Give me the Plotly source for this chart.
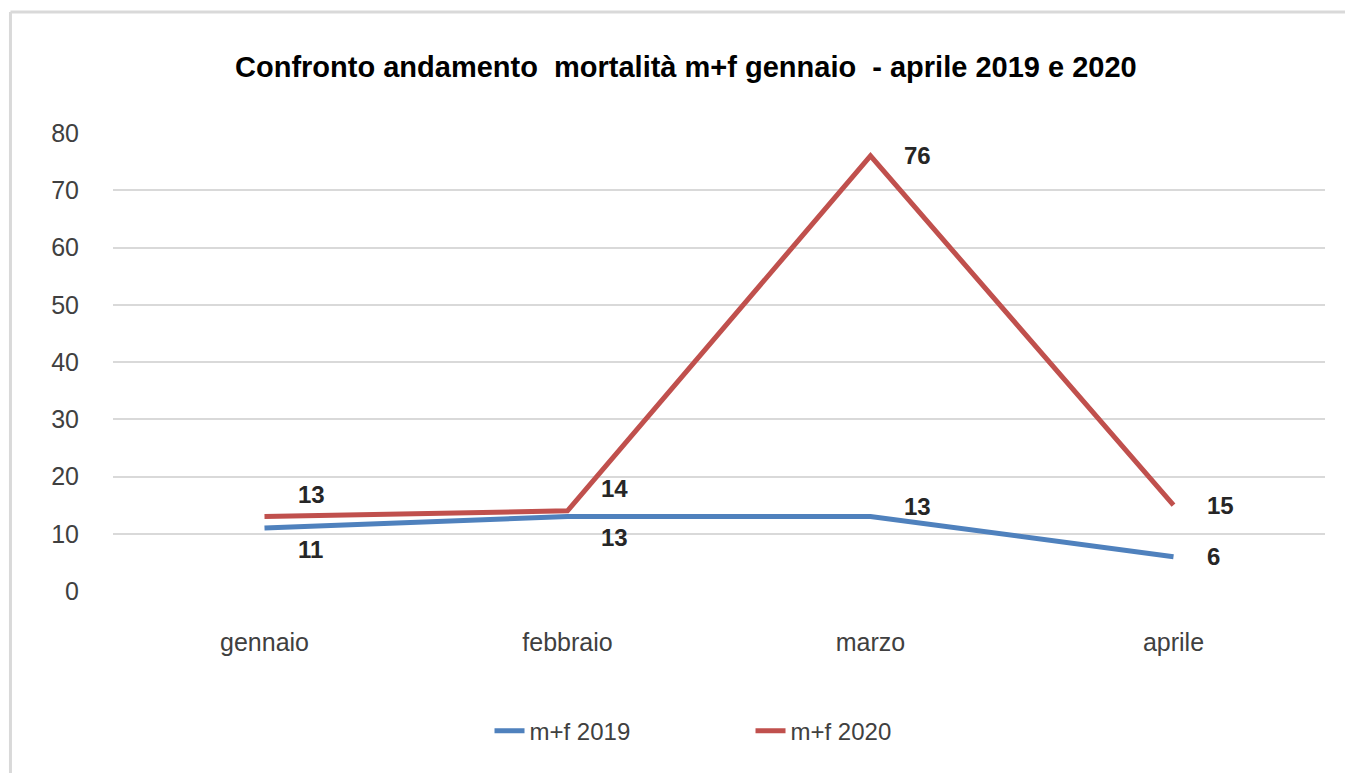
import plotly.graph_objects as go

# Data
months = ["gennaio", "febbraio", "marzo", "aprile"]
deaths_2019 = [11, 13, 13, 6]
deaths_2020 = [13, 14, 76, 15]
series_names = ["m+f 2019", "m+f 2020"]
y_ticks = [0, 10, 20, 30, 40, 50, 60, 70, 80]

# Styling
FONT = "Liberation Sans, Arial, sans-serif"
BLUE = "#4F81BD"
RED = "#C0504D"
TEXT = "#404040"
GRID = "#D9D9D9"

# where the value label sits relative to its point (style only)
label_pos_2019 = ["below", "below", "above_small", "right"]
label_pos_2020 = ["above", "above", "right", "right"]
SHIFTS = {"above": 22, "below": -21, "above_small": 10, "right": 0}

fig = go.Figure()
fig.add_trace(go.Scatter(x=months, y=deaths_2019, mode="lines", name=series_names[0],
                         line=dict(color=BLUE, width=5)))
fig.add_trace(go.Scatter(x=months, y=deaths_2020, mode="lines", name=series_names[1],
                         line=dict(color=RED, width=5)))

# value labels
for vals, pos in ((deaths_2019, label_pos_2019), (deaths_2020, label_pos_2020)):
    for m, v, p in zip(months, vals, pos):
        fig.add_annotation(x=m, y=v, text="<b>%d</b>" % v, showarrow=False,
                           xanchor="left", yanchor="middle",
                           xshift=31, yshift=SHIFTS[p],
                           font=dict(family=FONT, size=24, color="#262626"))

# chart frame (only top and left edges visible in the crop)
fig.add_shape(type="line", xref="paper", yref="paper", x0=-0.0846, x1=1.1,
              y0=1.264, y1=1.264, line=dict(color=GRID, width=3))
fig.add_shape(type="line", xref="paper", yref="paper", x0=-0.0846, x1=-0.0846,
              y0=1.264, y1=-0.5, line=dict(color=GRID, width=3))

# page body keeps its default 8px margin, so the figure is 8px smaller
fig.update_layout(
    width=1345, height=765,
    margin=dict(l=105, r=28, t=125, b=182),
    paper_bgcolor="white", plot_bgcolor="white",
    font=dict(family=FONT, size=25, color=TEXT),
    title=dict(text="Confronto andamento  mortalità m+f gennaio  - aprile 2019 e 2020",
               x=0.504, xanchor="center", y=0.923, yanchor="middle",
               font=dict(family=FONT, size=29, color="#000000", weight="bold")),
    showlegend=True,
    legend=dict(orientation="h", x=0.526, xanchor="center", y=-0.306, yanchor="middle",
                font=dict(family=FONT, size=24, color=TEXT),
                entrywidth=216, entrywidthmode="pixels",
                bgcolor="rgba(0,0,0,0)"),
)
fig.update_xaxes(range=[-0.5, 3.5], showgrid=False, showline=False, ticks="",
                 tickfont=dict(size=25), ticklabelstandoff=34)
fig.update_yaxes(range=[0, 80], tickvals=y_ticks, showgrid=True, gridcolor=GRID,
                 gridwidth=2, zeroline=False, showline=False, ticks="",
                 tickfont=dict(size=25), ticklabelstandoff=33)

fig.write_html("out.html")
